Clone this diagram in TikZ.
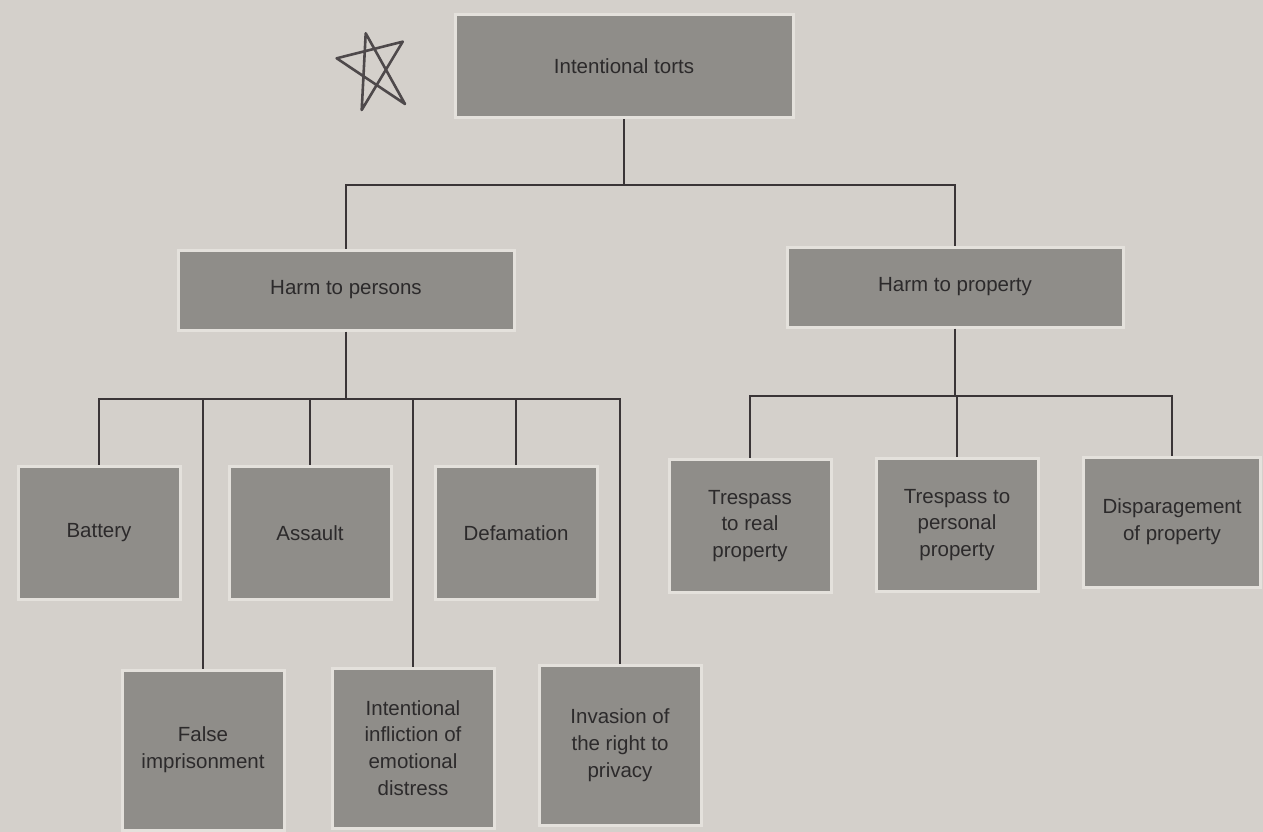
\documentclass[tikz,border=0pt]{standalone}
\usepackage{fontspec}
\setmainfont{Liberation Sans}
\definecolor{paper}{HTML}{D4D0CB}
\definecolor{boxfill}{HTML}{8F8D89}
\definecolor{boxrim}{HTML}{E4E1DC}
\definecolor{ink}{HTML}{3A3537}
\definecolor{txt}{HTML}{2C2A2B}

\begin{document}
\begin{tikzpicture}[x=1pt,y=-1pt,
    tort/.style={fill=boxfill,draw=boxrim,line width=3pt,inner sep=0pt,align=center,
      text=txt,font=\fontsize{20.5}{26.7}\selectfont},
    headbox/.style={tort,minimum width=338pt,minimum height=103pt},
    groupbox/.style={tort,minimum width=336pt,minimum height=80pt},
    leafbox/.style={tort,minimum width=162pt,minimum height=133pt},
    tallbox/.style={tort,minimum width=162pt,minimum height=160pt}]
  \fill[paper] (0,0) rectangle (1263,832);
  \useasboundingbox (0,0) rectangle (1263,832);
  % the star
  \draw[ink!90,line width=2.6pt,line join=round,line cap=round]
    (365.7,33.3) -- (405,104) -- (336.7,58.3) -- (402.7,41.7) -- (361.7,110) -- cycle;
  \draw
    (624, 66.5) node[headbox] (0){Intentional torts}
    (346, 290) node[groupbox] (1){Harm to persons}
    (955, 287) node[groupbox] (2){Harm to property}
    (99, 533) node[leafbox] (3){Battery}
    (203, 750) node[tallbox] (4){False\\imprisonment}
    (310, 533) node[leafbox] (5){Assault}
    (413, 748) node[tallbox] (6){Intentional\\infliction of\\emotional\\distress}
    (516, 533) node[leafbox] (7){Defamation}
    (620, 745) node[tallbox] (8){Invasion of\\the right to\\privacy}
    (750, 526) node[leafbox] (9){Trespass\\to real\\property}
    (957, 525) node[leafbox] (10){Trespass to\\personal\\property}
    (1172, 522) node[leafbox,minimum width=177pt,minimum height=130pt] (11){Disparagement\\of property};
  \coordinate (b0) at (624,185);
  \coordinate (b1) at (346,399);
  \coordinate (b2) at (955,396);
  \begin{scope}[ink,line width=2.8pt]
    \draw (0.south) -- (b0);
    \draw (b0) -| (1.north);
    \draw (b0) -| (2.north);
    \draw (1.south) -- (b1);
    \foreach \n in {3,...,8}
      \draw (b1) -| (\n.north);
    \draw (2.south) -- (b2);
    \foreach \n in {9,10,11}
      \draw (b2) -| (\n.north);
  \end{scope}
\end{tikzpicture}
\end{document}
